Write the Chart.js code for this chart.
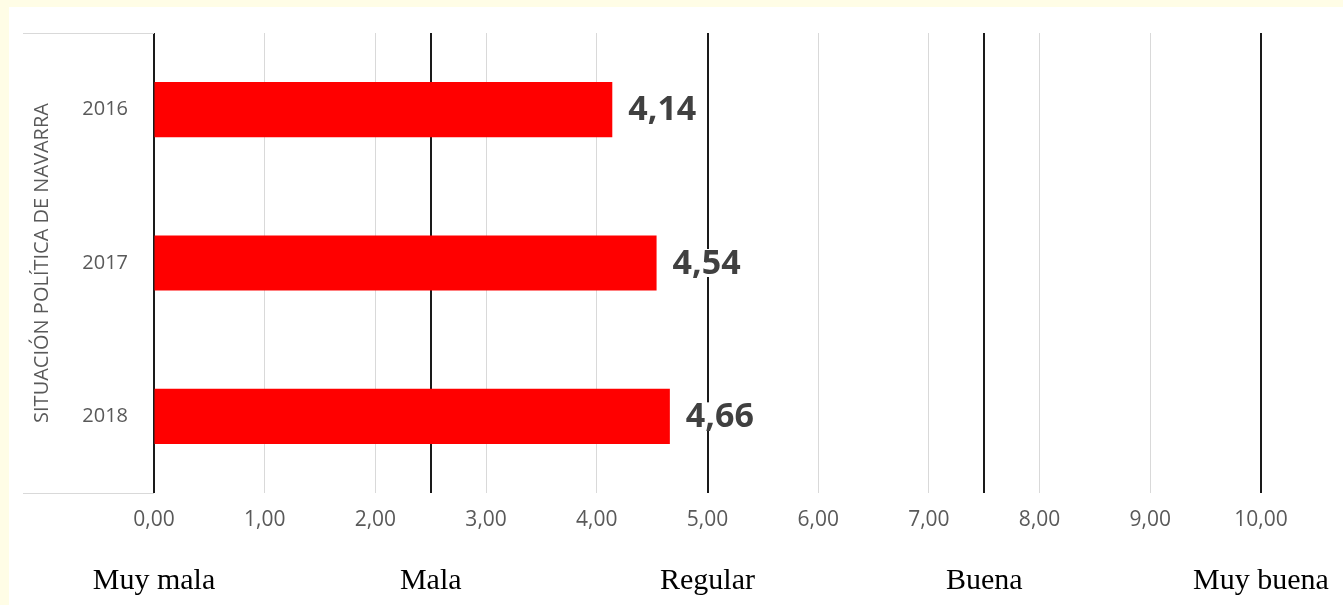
<!DOCTYPE html>
<html>
<head>
<meta charset="utf-8">
<script src="https://cdn.jsdelivr.net/npm/chart.js@4"></script>
<style>
  html, body { margin:0; padding:0; background:#fffde6; }
  #box { position:absolute; left:9px; top:7px; width:1334px; height:598px; background:#ffffff; }
</style>
</head>
<body>
<div id="box"><canvas id="chart" width="1334" height="598"></canvas></div>
<script>

const years        = ['2016', '2017', '2018']
const scores       = [4.14, 4.54, 4.66]
const scaleValues  = [0, 2.5, 5, 7.5, 10]
const scaleLabels  = ['Muy mala', 'Mala', 'Regular', 'Buena', 'Muy buena']
const axisTitle    = 'SITUACIÓN POLÍTICA DE NAVARRA'

const grey  = '#595959'
const light = '#d9d9d9'


// value labels at the end of each bar  (4,14 ...), they sit over the black lines
const barValues = {
      id: 'barValues',
      afterDraw(chart){
            const ctx  = chart.ctx
            const meta = chart.getDatasetMeta(0)
            ctx.save()
            ctx.font = 'bold 34px "Open Sans"'
            ctx.textBaseline = 'middle'
            meta.data.forEach((bar, i)=>{
                  const txt = scores[i].toFixed(2).replace('.', ',')
                  const w   = ctx.measureText(txt).width
                  ctx.fillStyle = '#ffffff'
                  ctx.fillRect(bar.x + 14, bar.y - 14, w + 4, 28)
                  ctx.fillStyle = '#404040'
                  ctx.fillText(txt, bar.x + 16, bar.y + 1)
            })
            ctx.restore()
      }
}

// grey lines closing the category area on the left (top / bottom)
const leftFrame = {
      id: 'leftFrame',
      beforeDatasetsDraw(chart){
            const ctx = chart.ctx, a = chart.chartArea
            ctx.save()
            ctx.strokeStyle = light
            ctx.lineWidth = 1
            ctx.beginPath()
            ctx.moveTo(a.left - 131, a.top + 0.5);    ctx.lineTo(a.left, a.top + 0.5)
            ctx.moveTo(a.left - 131, a.bottom + 0.5); ctx.lineTo(a.left, a.bottom + 0.5)
            ctx.stroke()
            ctx.restore()
      }
}

// no extra room for overflowing labels, the layout padding handles it
function noOverflow(scale){
      scale.paddingLeft = 0; scale.paddingRight = 0
      scale.paddingTop  = 0; scale.paddingBottom = 0
}


const setup = {
      type: 'bar',
      data: {
            labels: years,
            datasets: [{
                  data: scores,
                  backgroundColor: '#ff0000',
                  borderWidth: 0,
                  barPercentage: 0.36,
                  categoryPercentage: 1,
            }]
      },
      options: {
            responsive: false,
            animation: false,
            indexAxis: 'y',
            layout: { padding: { top: 26, right: 82, bottom: 7, left: 0 } },
            plugins: {
                  legend:  { display: false },
                  tooltip: { enabled: false },
            },
            scales: {
                  y: {
                        grid:   { display: false, drawTicks: false },
                        border: { display: false },
                        ticks:  { color: grey, font: { family: 'Open Sans', size: 20 }, padding: 26 },
                        title:  { display: true, text: axisTitle, color: grey,
                                  font: { family: 'Open Sans', size: 20 }, padding: { top: 21, bottom: 0 } },
                        afterFit: (scale)=>{ scale.width = 145; noOverflow(scale) },
                  },
                  x: {
                        min: 0, max: 10,
                        grid:   { color: light, lineWidth: 1, drawTicks: false },
                        border: { display: false },
                        ticks:  { stepSize: 1, color: grey, padding: 14,
                                  font: { family: 'Open Sans', size: 21 },
                                  callback: (v)=> v.toFixed(2).replace('.', ',') },
                        afterFit: (scale)=>{ scale.height = 38; noOverflow(scale) },
                  },
                  // verbal scale: Muy mala ... Muy buena, with the black lines
                  x2: {
                        type: 'linear',
                        position: 'bottom',
                        min: 0, max: 10,
                        z: 1,
                        afterBuildTicks: (scale)=>{ scale.ticks = scaleValues.map(v => ({ value: v })) },
                        grid:   { color: '#1a1a1a', lineWidth: 2, drawTicks: false },
                        border: { display: false },
                        ticks:  { autoSkip: false, maxRotation: 0, color: '#000000', padding: 32,
                                  font: { family: 'Liberation Serif', size: 30 },
                                  callback: (v)=> scaleLabels[scaleValues.indexOf(v)] },
                        afterFit: (scale)=>{ scale.height = 67; noOverflow(scale) },
                  },
            }
      },
      plugins: [barValues, leftFrame]
}

new Chart(document.getElementById('chart'), setup)

</script>
</body>
</html>
